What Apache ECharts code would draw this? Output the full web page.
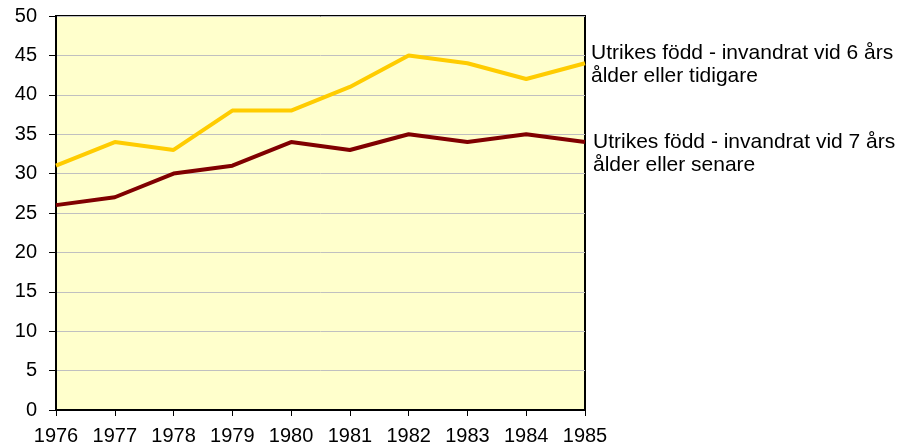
<!DOCTYPE html>
<html>
<head>
<meta charset="utf-8">
<script src="https://cdn.jsdelivr.net/npm/echarts@6/dist/echarts.min.js"></script>
<style>
  html, body { margin: 0; padding: 0; background: #fff; }
  #container { width: 902px; height: 446px; }
</style>
</head>
<body>
<div id="container"></div>
<script>
var years = ["1976", "1977", "1978", "1979", "1980", "1981", "1982", "1983", "1984", "1985"];
var early = [31, 34, 33, 38, 38, 41, 45, 44, 42, 44];
var late = [26, 27, 30, 31, 34, 33, 35, 34, 35, 34];
var earlyName = "Utrikes född - invandrat vid 6 års\nålder eller tidigare";
var lateName = "Utrikes född - invandrat vid 7 års\nålder eller senare";

var dom = document.getElementById("container");
var myChart = echarts.init(dom, null, { renderer: "canvas" });

var font = "Liberation Sans, Arial, sans-serif";

var option = {
  animation: false,
  grid: {
    left: 56,
    right: 317,
    top: 16,
    bottom: 36,
    show: true,
    backgroundColor: "#ffffcc",
    borderColor: "#000",
    borderWidth: 2,
  },
  xAxis: {
    type: "category",
    data: years,
    boundaryGap: false,
    axisLine: { lineStyle: { color: "#000", width: 2 } },
    axisTick: { show: true, length: 6, lineStyle: { color: "#000" } },
    axisLabel: { color: "#000", fontSize: 20, fontFamily: font, margin: 16 },
    splitLine: { show: false },
  },
  yAxis: {
    type: "value",
    min: 0,
    max: 50,
    interval: 5,
    axisLine: { show: true, lineStyle: { color: "#000", width: 2 } },
    axisTick: { show: true, length: 7, lineStyle: { color: "#000" } },
    axisLabel: { color: "#000", fontSize: 20, fontFamily: font, margin: 19 },
    splitLine: { lineStyle: { color: "#c0c0c0", width: 1 } },
  },
  series: [
    {
      name: earlyName,
      type: "line",
      data: early,
      symbol: "none",
      lineStyle: { color: "#ffcc00", width: 4 },
      itemStyle: { color: "#ffcc00" },
      endLabel: {
        show: true,
        formatter: earlyName,
        color: "#000",
        fontSize: 21,
        fontFamily: font,
        lineHeight: 23,
        offset: [-2, 1],
      },
    },
    {
      name: lateName,
      type: "line",
      data: late,
      symbol: "none",
      lineStyle: { color: "#800000", width: 4 },
      itemStyle: { color: "#800000" },
      endLabel: {
        show: true,
        formatter: lateName,
        color: "#000",
        fontSize: 21,
        fontFamily: font,
        lineHeight: 23,
        offset: [0, 12],
      },
    },
  ],
};

myChart.setOption(option);
window.addEventListener("resize", myChart.resize);
</script>
</body>
</html>
